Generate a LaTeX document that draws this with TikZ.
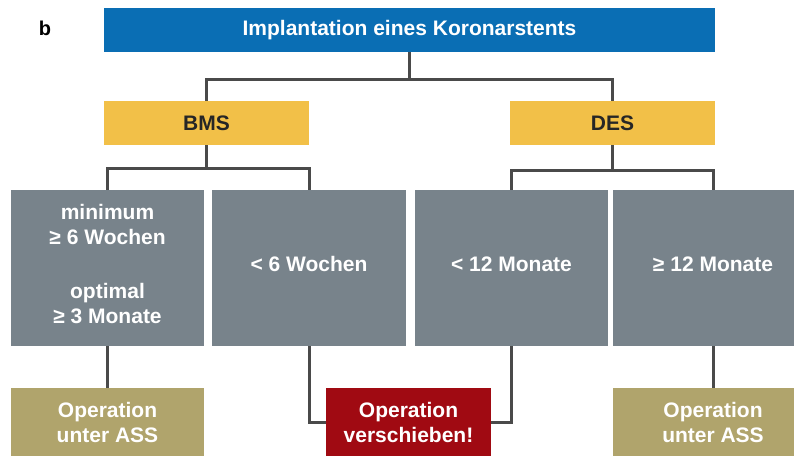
\documentclass[tikz,border=0pt]{standalone}
\usepackage{fontspec}
\setmainfont{Liberation Sans}
\usepackage{xcolor}
\usepackage{tikz}

\definecolor{stentblue}{HTML}{0A6EB4}
\definecolor{stentyellow}{HTML}{F2C048}
\definecolor{stentgray}{HTML}{78838B}
\definecolor{stentkhaki}{HTML}{B0A46C}
\definecolor{stentred}{HTML}{A00A12}
\definecolor{stentline}{HTML}{4A4A4A}

\tikzset{
	box/.style={inner sep=0pt, align=center, text=white, font=\bfseries\fontsize{21}{25}\selectfont},
	stentbox/.style={box, fill=stentyellow, text=black!85, minimum width=205pt, minimum height=44pt},
	timebox/.style={box, fill=stentgray, minimum height=156pt, text depth=8pt},
	opbox/.style={box, minimum height=68pt},
	link/.style={draw=stentline, line width=3pt}
}

\begin{document}
\begin{tikzpicture}[x=1pt,y=-1pt]
			\clip (0,0) rectangle (794,455);
			\node(panel) at (45,28) [font=\bfseries\fontsize{20}{24}\selectfont] {b};
			\node(implant) at (409.5,30) [box, fill=stentblue, minimum width=611pt, minimum height=44pt] {Implantation eines Koronarstents};
			\node(bms) at (206.5,123) [stentbox] {BMS};
			\node(des) at (612.5,123) [stentbox] {DES};
			\node(bmsmin) at (107.5,268) [timebox, minimum width=193pt] {minimum\\≥ 6 Wochen\\[29pt]optimal\\≥ 3 Monate};
			\node(bmsshort) at (309,268) [timebox, minimum width=194pt] {< 6 Wochen};
			\node(desshort) at (511.5,268) [timebox, minimum width=193pt] {< 12 Monate};
			\node(deslong) at (713,268) [timebox, minimum width=200pt] {≥ 12 Monate};
			\node(opleft) at (107.5,422) [opbox, fill=stentkhaki, minimum width=193pt] {Operation\\unter ASS};
			\node(oplater) at (408.5,422) [opbox, fill=stentred, minimum width=165pt] {Operation\\verschieben!};
			\node(opright) at (713,422) [opbox, fill=stentkhaki, minimum width=200pt] {Operation\\unter ASS};

			\draw[link] (implant.south) -- ++(0,27) coordinate(split);
			\draw[link] (split) -| (bms.north);
			\draw[link] (split) -| (des.north);
			\draw[link] (bms.south) -- ++(0,23) coordinate(bmssplit);
			\draw[link] (bmssplit) -| (bmsmin.north);
			\draw[link] (bmssplit) -| (bmsshort.north);
			\draw[link] (des.south) -- ++(0,25) coordinate(dessplit);
			\draw[link] (dessplit) -| (desshort.north);
			\draw[link] (dessplit) -| (deslong.north);
			\draw[link] (bmsmin.south) -- (opleft.north);
			\draw[link] (bmsshort.south) |- (oplater.west);
			\draw[link] (desshort.south) |- (oplater.east);
			\draw[link] (deslong.south) -- (opright.north);
		\end{tikzpicture}
\end{document}
